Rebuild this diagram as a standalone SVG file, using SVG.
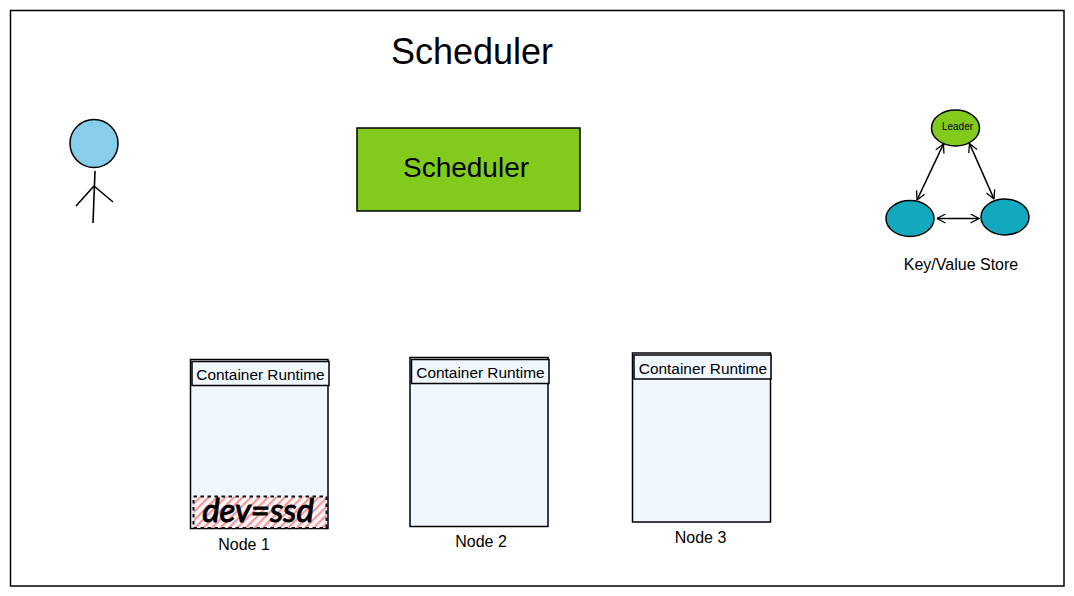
<svg xmlns="http://www.w3.org/2000/svg" width="1074" height="596" viewBox="0 0 1074 596">
<style>
text{font-family:"Liberation Sans",Arial,sans-serif;fill:#000}
.o{stroke:#000;stroke-width:1.6;fill:none}
.node{fill:#f0f7ff;stroke:#000;stroke-width:1.5}
.cr{font-size:15.4px}
.lbl{font-size:16px}
</style>
<defs>
<pattern id="hatch" width="6" height="6" patternUnits="userSpaceOnUse" patternTransform="rotate(-45)">
<rect width="6" height="6" fill="#fdf6f6"/>
<rect width="6" height="2.2" fill="#f39a9f"/>
</pattern>
<marker id="a" viewBox="0 0 10 10" refX="9.5" refY="5" markerWidth="10" markerHeight="10" markerUnits="userSpaceOnUse" orient="auto-start-reverse">
<path d="M1 0.5L9.5 5L1 9.5" fill="none" stroke="#000" stroke-width="1.3"/>
</marker>
</defs>
<rect width="1074" height="596" fill="#fff"/>
<g id="frame"><rect x="10.500" y="10.500" width="1053.500" height="575.500" fill="#fff" stroke="#000" stroke-width="1.500"/></g>
<g id="title"><text x="472" y="64" font-size="36" text-anchor="middle">Scheduler</text></g>
<g id="user">
<circle cx="94" cy="143.500" r="24" fill="#87ceeb" stroke="#000" stroke-width="1.500"/>
<path class="o" d="M95 171L93 223M94 186L76 206M94 186L113 202"/>
</g>
<g id="scheduler">
<rect x="357" y="128" width="223" height="83" fill="#82cb1c" stroke="#000" stroke-width="1.500"/>
<text x="466" y="177" font-size="28" text-anchor="middle">Scheduler</text>
</g>
<g id="leader">
<ellipse cx="955.500" cy="128" rx="24" ry="18" fill="#82cb1c" stroke="#000" stroke-width="1.500"/>
<text x="957.500" y="130" font-size="10" text-anchor="middle">Leader</text>
</g>
<g id="kv1"><ellipse cx="910" cy="218.500" rx="24" ry="18" fill="#12a9bf" stroke="#000" stroke-width="1.500"/></g>
<g id="kv2"><ellipse cx="1005" cy="217" rx="24" ry="18" fill="#12a9bf" stroke="#000" stroke-width="1.500"/></g>
<g id="connectors">
<path class="o" marker-start="url(#a)" marker-end="url(#a)" d="M943.500 144L917 200"/>
<path class="o" marker-start="url(#a)" marker-end="url(#a)" d="M969.500 143.500L994 199"/>
<path class="o" marker-start="url(#a)" marker-end="url(#a)" d="M937 218.500H979"/>
</g>
<g id="kv-label"><text x="961" y="270" class="lbl" text-anchor="middle">Key/Value Store</text></g>
<g id="node1">
<rect class="node" x="190.500" y="359.500" width="137.500" height="169"/>
<rect class="node" x="192" y="361.500" width="137" height="24"/>
<text x="260.500" y="380" class="cr" text-anchor="middle">Container Runtime</text>
<rect x="193.500" y="496.500" width="133" height="31.500" fill="url(#hatch)" stroke="#111" stroke-width="2" stroke-dasharray="3.500 3.500"/>
<text x="258" y="522" font-size="33" font-style="italic" text-anchor="middle" stroke="#000" stroke-width="1" style="font-family:'Lato','Liberation Sans',sans-serif">dev=ssd</text>
<text x="244" y="550" class="lbl" text-anchor="middle">Node 1</text>
</g>
<g id="node2">
<rect class="node" x="410" y="357.500" width="138" height="169"/>
<rect class="node" x="411.500" y="359.500" width="137.500" height="24"/>
<text x="480.500" y="378" class="cr" text-anchor="middle">Container Runtime</text>
<text x="481" y="547" class="lbl" text-anchor="middle">Node 2</text>
</g>
<g id="node3">
<rect class="node" x="632.500" y="353" width="138" height="169"/>
<rect class="node" x="634" y="355" width="137" height="24"/>
<text x="703" y="374" class="cr" text-anchor="middle">Container Runtime</text>
<text x="700.500" y="543" class="lbl" text-anchor="middle">Node 3</text>
</g>
</svg>
